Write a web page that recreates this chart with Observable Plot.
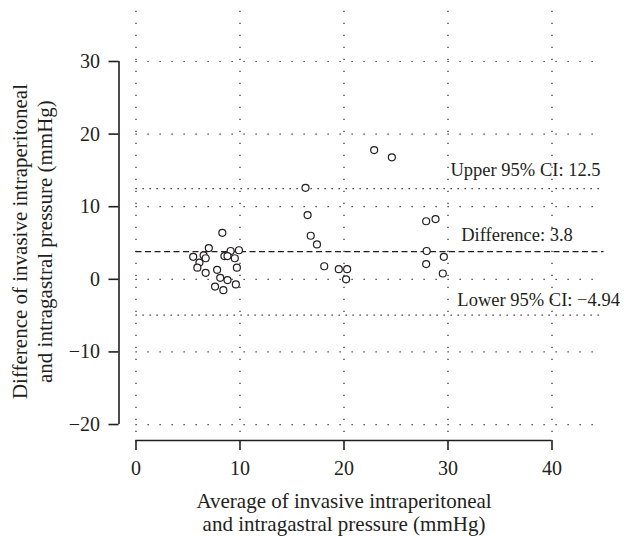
<!DOCTYPE html>
<html>
<head>
<meta charset="utf-8">
<script src="https://cdn.jsdelivr.net/npm/d3@7"></script>
<script src="https://cdn.jsdelivr.net/npm/@observablehq/plot@0.6"></script>
<style>
  body { margin: 0; background: #fff; }
  #chart svg { display: block; }
</style>
</head>
<body>
<div id="chart"></div>
<script>
// Bland–Altman data: average (x) vs difference (y), mmHg
const avgValues = [8.3, 7.0, 5.5, 6.5, 6.7, 6.1, 5.9, 6.7, 9.1, 9.9, 8.5, 8.8, 9.5, 9.7, 7.8, 8.1, 8.8, 9.6, 7.6, 8.4,
                   22.9, 24.6, 16.3, 16.5, 16.8, 17.4, 18.1, 19.5, 20.3, 20.2, 27.9, 28.8, 27.95, 29.6, 27.9, 29.5];
const diffValues = [6.4, 4.3, 3.1, 3.3, 2.9, 2.3, 1.6, 0.9, 3.9, 4.0, 3.2, 3.2, 2.9, 1.6, 1.3, 0.2, -0.1, -0.7, -1.0, -1.5,
                    17.8, 16.8, 12.6, 8.85, 6.0, 4.8, 1.8, 1.4, 1.4, 0.0, 8.0, 8.3, 3.9, 3.1, 2.1, 0.8];
const meanDiff = 3.8;
const upperCI = 12.5;
const lowerCI = -4.94;
const xTicks = [0, 10, 20, 30, 40];
const yTicks = [-20, -10, 0, 10, 20, 30];
const refLabels = ["Upper 95% CI: 12.5", "Difference: 3.8", "Lower 95% CI: \u22124.94"];
const xTitle = "Average of invasive intraperitoneal\nand intragastral pressure (mmHg)";
const yTitle = "Difference of invasive intraperitoneal\nand intragastral pressure (mmHg)";

const points = avgValues.map((x, i) => ({x, y: diffValues[i]}));

const FONT = "Liberation Serif, Times New Roman, serif";
const INK = "#231f20";
const xMax = 45, yTop = 38.4, yGridBottom = -21.1, yAxisPos = -22.2;

const refText = (y, label, x, dy) =>
  Plot.text([label], {x: () => x, y: () => y, text: d => d, dy, textAnchor: "start", lineAnchor: "bottom", fill: INK, fontSize: 18.5});

const chart = Plot.plot({
  width: 638,
  height: 536,
  marginLeft: 135.5,
  marginRight: 34.5,
  marginTop: 0,
  marginBottom: 96,
  style: {fontFamily: FONT, fontSize: "18px", color: INK, background: "#fff"},
  x: {domain: [0, xMax], label: null},
  y: {domain: [yAxisPos, yTop], label: null},
  marks: [
    // grid
    Plot.ruleX(xTicks, {y1: yGridBottom, y2: yTop, stroke: INK, strokeWidth: 1.2, strokeDasharray: "1.2,10.8"}),
    Plot.ruleY(yTicks, {x1: 0, x2: xMax, stroke: INK, strokeWidth: 1.2, strokeDasharray: "1.2,10.8"}),
    // reference lines
    Plot.ruleY([upperCI, lowerCI], {x1: 0, x2: xMax, stroke: INK, strokeWidth: 1.3, strokeDasharray: "1.3,5.7"}),
    Plot.ruleY([meanDiff], {x1: 0, x2: xMax, stroke: INK, strokeWidth: 1.3, strokeDasharray: "6,3.5"}),
    refText(upperCI, refLabels[0], 30.24, -13),
    refText(meanDiff, refLabels[1], 31.27, -11),
    refText(lowerCI, refLabels[2], 30.9, -9),
    // points
    Plot.dot(points, {x: "x", y: "y", r: 3.5, stroke: INK, strokeWidth: 1.2, fill: "white"}),
    // x axis
    Plot.ruleY([yAxisPos], {x1: 0, x2: 40, stroke: INK, strokeWidth: 1.6}),
    Plot.axisX({ticks: xTicks, tickSize: 10, tickPadding: 10, stroke: INK, strokeWidth: 1.6, fontSize: 20, fill: INK, label: null}),
    Plot.text([xTitle], {frameAnchor: "bottom", x: 20, dy: 71.6, lineAnchor: "middle", lineHeight: 1.11, fontSize: 21, fill: INK}),
    // y axis
    Plot.ruleX([0], {y1: -20, y2: 30, dx: -17, stroke: INK, strokeWidth: 1.6}),
    Plot.axisY({ticks: yTicks, tickSize: 10, tickPadding: 9, dx: -17, stroke: INK, strokeWidth: 1.6, fontSize: 20, fill: INK, label: null,
                tickFormat: d => d < 0 ? "\u2212" + Math.abs(d) : String(d)}),
    Plot.text([yTitle], {x: 0, y: 5.2, dx: -104.7, rotate: -90, lineAnchor: "middle", lineHeight: 1.19, fontSize: 21, fill: INK})
  ]
});
document.getElementById("chart").appendChild(chart);
</script>
</body>
</html>
